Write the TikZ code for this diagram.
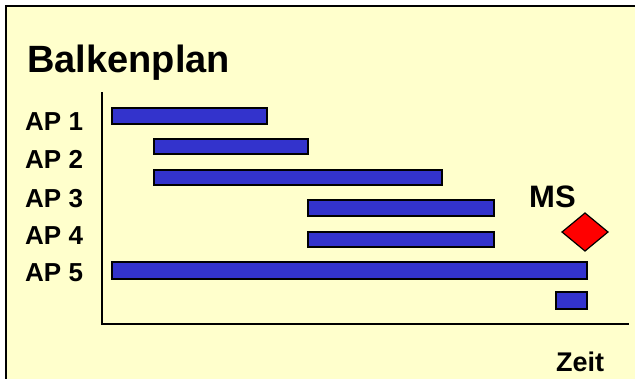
\documentclass[tikz,border=0pt]{standalone}
\usepackage{fontspec}
\setmainfont{Liberation Sans}
\definecolor{bg}{HTML}{FFFFCC}
\definecolor{barblue}{HTML}{3333CC}
\definecolor{msred}{HTML}{FF0000}
\tikzset{
  bar/.style={draw=black, line width=1.4pt, fill=barblue},
  lbl/.style={anchor=base west, inner sep=0pt, font=\bfseries\fontsize{26}{30}\selectfont},
  axis/.style={draw=black, line width=1.3pt},
}
\begin{document}
\begin{tikzpicture}[x=1pt,y=-1pt]
\useasboundingbox (0,0) rectangle (635,378);
\fill[white] (0,0) rectangle (635,378);
\draw[line width=2.2pt, fill=bg] (6,6) rectangle (660,400);
% title
\node[anchor=base west, inner sep=0pt, font=\bfseries\fontsize{38}{44}\selectfont] (title) at (27,72) {Balkenplan};
% labels
\node[lbl] (ap1) at (25,130) {AP 1};
\node[lbl] (ap2) at (25,168) {AP 2};
\node[lbl] (ap3) at (25,207) {AP 3};
\node[lbl] (ap4) at (25,244) {AP 4};
\node[lbl] (ap5) at (25,281) {AP 5};
% axes
\coordinate (top) at (102,92);
\coordinate (origin) at (102,324);
\coordinate (xend) at (629,324);
\draw[axis] (top) -- (origin) -- (xend);
% bars
\draw[bar] (112,108) rectangle (267,124);
\draw[bar] (154,139) rectangle (308,154);
\draw[bar] (154,170) rectangle (442,185);
\draw[bar] (308,200) rectangle (494,216);
\draw[bar] (308,232) rectangle (494,247);
\draw[bar] (112,262) rectangle (587,279);
\draw[bar] (556,292) rectangle (587,309);
% milestone
\draw[line width=1.2pt, fill=msred] (562,232) -- (585,213) -- (608,232) -- (585,251) -- cycle;
\node[anchor=base west, inner sep=0pt, font=\bfseries\fontsize{31}{34}\selectfont] (ms) at (529,207) {MS};
\node[anchor=base west, inner sep=0pt, font=\bfseries\fontsize{27}{30}\selectfont] (zeit) at (556,371) {Zeit};
\end{tikzpicture}
\end{document}
